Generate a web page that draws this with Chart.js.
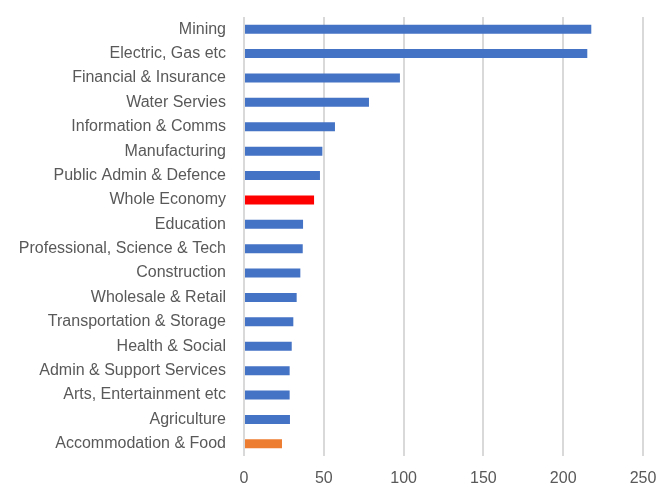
<!DOCTYPE html>
<html>
<head>
<meta charset="utf-8">
<script src="https://cdn.jsdelivr.net/npm/chart.js@4"></script>
<style>
    html, body { margin: 0; padding: 0; background: #fff; }
    #contenedor { width: 660px; height: 486px; }
</style>
</head>
<body>
<div id="contenedor"><canvas id="sectorChart"></canvas></div>
<script>
// Datos
const sectores = [
    'Mining', 'Electric, Gas etc', 'Financial & Insurance', 'Water Servies',
    'Information & Comms', 'Manufacturing', 'Public Admin & Defence', 'Whole Economy',
    'Education', 'Professional, Science & Tech', 'Construction', 'Wholesale & Retail',
    'Transportation & Storage', 'Health & Social', 'Admin & Support Services',
    'Arts, Entertainment etc', 'Agriculture', 'Accommodation & Food'
];
const valores = [217.6, 215.1, 97.7, 78.3, 57.0, 49.1, 47.6, 43.9, 37.0, 36.8, 35.3, 33.0, 30.9, 29.9, 28.6, 28.6, 28.8, 23.8];
const ticksX = [0, 50, 100, 150, 200, 250];

// Colores: azul por defecto, rojo para la media, naranja para el ultimo
const colores = sectores.map(function(s) {
    if (s === 'Whole Economy') return '#FF0000';
    if (s === 'Accommodation & Food') return '#ED7D31';
    return '#4472C4';
});

const fuente = { family: "'Liberation Sans', Arial, sans-serif", size: 16 };

const ctx = document.getElementById('sectorChart').getContext('2d');
const grafico = new Chart(ctx, {
    type: 'bar',
    data: {
        labels: sectores,
        datasets: [{
            data: valores,
            backgroundColor: colores,
            categoryPercentage: 1,
            barPercentage: 0.37
        }]
    },
    options: {
        indexAxis: 'y',
        responsive: true,
        maintainAspectRatio: false,
        animation: false,
        layout: { padding: { top: 17, right: 17, left: 0, bottom: 0 } },
        plugins: {
            legend: { display: false },
            tooltip: { enabled: false }
        },
        scales: {
            x: {
                min: 0,
                max: 250,
                afterBuildTicks: function(scale) {
                    scale.ticks = ticksX.map(v => ({ value: v }));
                },
                afterFit: function(scale) {
                    scale.height = 30;
                    scale.paddingLeft = 0;
                    scale.paddingRight = 0;
                },
                grid: { color: '#D9D9D9', lineWidth: 2, drawTicks: false },
                border: { display: false },
                ticks: { color: '#595959', font: fuente, padding: 13 }
            },
            y: {
                afterFit: function(scale) {
                    scale.width = 244;
                    scale.paddingTop = 0;
                    scale.paddingBottom = 0;
                },
                grid: { display: false },
                border: { display: false },
                ticks: { color: '#595959', font: fuente, padding: 10, autoSkip: false }
            }
        }
    }
});
</script>
</body>
</html>
